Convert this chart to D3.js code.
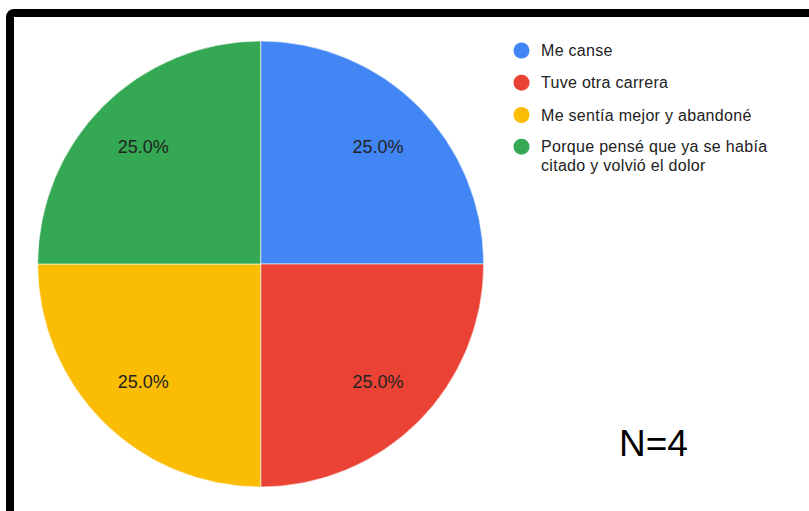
<!DOCTYPE html>
<html>
<head>
<meta charset="utf-8">
<script src="https://cdn.jsdelivr.net/npm/d3@7"></script>
<style>
  body { margin: 0; background: #fff; }
  svg { display: block; }
</style>
</head>
<body>
<svg id="chart" width="809" height="511"></svg>
<script>
// chart data
const categories = ["Me canse", "Tuve otra carrera", "Me sentía mejor y abandoné", "Porque pensé que ya se había citado y volvió el dolor"];
const legendLines = [["Me canse"], ["Tuve otra carrera"], ["Me sentía mejor y abandoné"], ["Porque pensé que ya se había", "citado y volvió el dolor"]];
const values = [1, 1, 1, 1];
const colors = ["#4285F4", "#EA4335", "#FBBC04", "#34A853"];
const note = "N=4";

let svg = d3.select("#chart"),
    cx = 260.7, cy = 264, radius = 223;

// black frame (only top and left are visible in the crop)
svg.append("rect")
    .attr("x", 10).attr("y", 13)
    .attr("width", 1000).attr("height", 800)
    .attr("rx", 4)
    .attr("fill", "none")
    .attr("stroke", "#000")
    .attr("stroke-width", 8);

let total = d3.sum(values);
let pie = d3.pie().sort(null).value(d => d)(values);
let arc = d3.arc().innerRadius(0).outerRadius(radius);
let labelArc = d3.arc().innerRadius(166).outerRadius(166);

let g = svg.append("g").attr("transform", "translate(" + cx + "," + cy + ")");

g.selectAll("path.slice").data(pie).enter()
    .append("path")
    .classed("slice", true)
    .attr("d", arc)
    .attr("fill", (d, i) => colors[i])
    .attr("stroke", "#fff")
    .attr("stroke-opacity", 0.6)
    .attr("stroke-width", 1);

g.selectAll("text.pct").data(pie).enter()
    .append("text")
    .classed("pct", true)
    .attr("transform", d => "translate(" + labelArc.centroid(d) + ")")
    .attr("text-anchor", "middle")
    .attr("dy", "0.36em")
    .attr("font-family", "Arial, 'Liberation Sans', sans-serif")
    .attr("font-size", "18px")
    .attr("fill", "#222")
    .text(d => (d.value / total * 100).toFixed(1) + "%");

// legend
let legendY = [50.5, 82.7, 115, 146.7];
let leg = svg.selectAll("g.legend").data(categories).enter()
    .append("g")
    .classed("legend", true)
    .attr("transform", (d, i) => "translate(521.5," + legendY[i] + ")");

leg.append("circle")
    .attr("r", 8)
    .attr("fill", (d, i) => colors[i]);

leg.append("text")
    .attr("x", 19.5)
    .attr("y", 0)
    .attr("font-family", "Arial, 'Liberation Sans', sans-serif")
    .attr("font-size", "16px")
    .attr("letter-spacing", "0.3px")
    .attr("fill", "#222")
    .each(function(d, i) {
        d3.select(this).selectAll("tspan").data(legendLines[i]).enter()
            .append("tspan")
            .attr("x", 19.5)
            .attr("dy", (t, j) => j === 0 ? "0.36em" : "18.5px")
            .text(t => t);
    });

svg.append("text")
    .attr("x", 619)
    .attr("y", 456)
    .attr("font-family", "Arial, 'Liberation Sans', sans-serif")
    .attr("font-size", "37px")
    .attr("fill", "#000")
    .text(note);
</script>
</body>
</html>
